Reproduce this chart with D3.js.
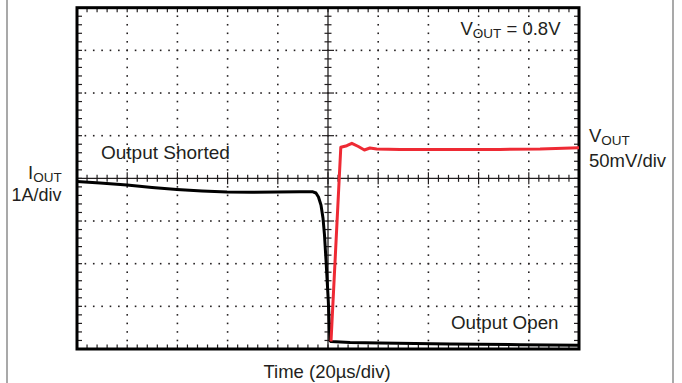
<!DOCTYPE html>
<html><head><meta charset="utf-8">
<script src="https://cdn.jsdelivr.net/npm/d3@7"></script>
<style>
html,body{margin:0;padding:0;background:#fff;}
svg{display:block;font-family:"Liberation Sans",Arial,Helvetica,sans-serif;}
</style></head>
<body>
<svg id="chart" width="682" height="383"></svg>
<script>
// Time in µs (20 µs/div, 10 divisions); values in screen divisions from centre line
const timeDomain = [0, 200];
const divDomain = [-4, 4];

// I_OUT trace (1A/div)
const ioutTime = [0, 9.2, 19.9, 29.9, 39.8, 49.8, 59.8, 69.7, 79.7, 88.8, 94.0, 95.2, 96.2, 97.2, 98.0, 98.6, 99.2, 100.1, 100.8, 101.2, 108.8, 120.7, 148.6, 176.5, 200];
const ioutDiv  = [-0.074, -0.109, -0.156, -0.215, -0.261, -0.296, -0.32, -0.327, -0.32, -0.315, -0.315, -0.343, -0.437, -0.624, -0.929, -1.327, -1.913, -2.851, -3.804, -3.827, -3.85, -3.86, -3.88, -3.9, -3.91];

// V_OUT trace (50mV/div)
const voutTime = [101.2, 105.1, 107.5, 109.5, 112.1, 114.5, 116.7, 119.4, 128.7, 148.6, 168.5, 184.5, 200];
const voutDiv  = [-3.82, 0.728, 0.765, 0.821, 0.746, 0.664, 0.711, 0.687, 0.675, 0.675, 0.679, 0.686, 0.72];

const labels = {
  title: ["V", "OUT", " = 0.8V"],
  right1: ["V", "OUT"], right2: "50mV/div",
  left1: ["I", "OUT"], left2: "1A/div",
  shorted: "Output Shorted", open: "Output Open",
  xTitle: "Time (20µs/div)"
};

const svg = d3.select("#chart");
const L = 77, R = 579, T = 7.7, B = 349;
const x = d3.scaleLinear().domain(timeDomain).range([L, R]);
const y = d3.scaleLinear().domain(divDomain).range([B, T]);
const ink = "#231f20";

// outer frame lines
svg.append("line").attr("x1", 7).attr("x2", 7).attr("y1", 0).attr("y2", 383).attr("stroke", "#8c8c8c").attr("stroke-width", 1.5);
svg.append("line").attr("x1", 673).attr("x2", 673).attr("y1", 0).attr("y2", 383).attr("stroke", "#8c8c8c").attr("stroke-width", 1.5);

const g = svg.append("g");
// dotted grid
const vGrid = d3.range(1, 10).filter(i => i !== 5).map(i => i * 20);
const hGrid = d3.range(-3, 4).filter(v => v !== 0);
vGrid.forEach(t => {
  d3.range(-4, 4.001, 0.2).forEach(v => {
    g.append("rect").attr("x", x(t) - 0.8).attr("y", y(v) - 0.8).attr("width", 1.6).attr("height", 1.6).attr("fill", ink);
  });
});
hGrid.forEach(v => {
  d3.range(0, 200.001, 20 / 6).forEach(t => {
    g.append("rect").attr("x", x(t) - 0.8).attr("y", y(v) - 0.8).attr("width", 1.6).attr("height", 1.6).attr("fill", ink);
  });
});

// centre axes with ticks
g.append("line").attr("x1", L).attr("x2", R).attr("y1", y(0)).attr("y2", y(0)).attr("stroke", ink).attr("stroke-width", 1.3);
g.append("line").attr("x1", x(100)).attr("x2", x(100)).attr("y1", T).attr("y2", B).attr("stroke", ink).attr("stroke-width", 1.3);
d3.range(0, 200.001, 4).forEach((t, i) => {
  const len = (i % 5 === 0) ? 6 : 3.5;
  g.append("line").attr("x1", x(t)).attr("x2", x(t)).attr("y1", y(0) - len).attr("y2", y(0) + len).attr("stroke", ink).attr("stroke-width", 1.2);
  g.append("line").attr("x1", x(t)).attr("x2", x(t)).attr("y1", T).attr("y2", T + 4.5).attr("stroke", ink).attr("stroke-width", 1.2);
  g.append("line").attr("x1", x(t)).attr("x2", x(t)).attr("y1", B).attr("y2", B - 4.5).attr("stroke", ink).attr("stroke-width", 1.2);
});
d3.range(-4, 4.001, 0.2).forEach((v, i) => {
  const len = (i % 5 === 0) ? 6 : 3.5;
  g.append("line").attr("x1", x(100) - len).attr("x2", x(100) + len).attr("y1", y(v)).attr("y2", y(v)).attr("stroke", ink).attr("stroke-width", 1.2);
  g.append("line").attr("x1", L).attr("x2", L + 5).attr("y1", y(v)).attr("y2", y(v)).attr("stroke", ink).attr("stroke-width", 1.2);
  g.append("line").attr("x1", R).attr("x2", R - 5).attr("y1", y(v)).attr("y2", y(v)).attr("stroke", ink).attr("stroke-width", 1.2);
});

// plot border
g.append("rect").attr("x", L).attr("y", T).attr("width", R - L).attr("height", B - T)
  .attr("fill", "none").attr("stroke", "#000").attr("stroke-width", 3);

// traces
const line = d3.line().x(d => x(d[0])).y(d => y(d[1]));
svg.append("path").datum(ioutTime.map((t, i) => [t, ioutDiv[i]]))
  .attr("d", line).attr("fill", "none").attr("stroke", "#000").attr("stroke-width", 3).attr("stroke-linejoin", "round");
svg.append("path").datum(voutTime.map((t, i) => [t, voutDiv[i]]))
  .attr("d", line).attr("fill", "none").attr("stroke", "#ee2a34").attr("stroke-width", 3).attr("stroke-linejoin", "round");

// texts
function subText(xp, yp, parts) {
  const tx = svg.append("text").attr("x", xp).attr("y", yp).attr("fill", ink).attr("font-size", 18.5);
  tx.append("tspan").text(parts[0]);
  tx.append("tspan").attr("font-size", 13.5).attr("dy", 3).text(parts[1]);
  if (parts[2]) tx.append("tspan").attr("dy", -3).text(parts[2]);
  return tx;
}
subText(460.5, 34.5, labels.title);
subText(589, 141.5, labels.right1);
svg.append("text").attr("x", 589).attr("y", 166.5).attr("fill", ink).attr("font-size", 18.5).text(labels.right2);
subText(28, 178.5, labels.left1);
svg.append("text").attr("x", 11.5).attr("y", 201).attr("fill", ink).attr("font-size", 18).text(labels.left2);
svg.append("text").attr("x", 101).attr("y", 158.5).attr("fill", ink).attr("font-size", 19).text(labels.shorted);
svg.append("text").attr("x", 451).attr("y", 329).attr("fill", ink).attr("font-size", 18.8).text(labels.open);
svg.append("text").attr("x", 327).attr("y", 378).attr("text-anchor", "middle").attr("fill", ink).attr("font-size", 18.5).text(labels.xTitle);
</script>
</body></html>
